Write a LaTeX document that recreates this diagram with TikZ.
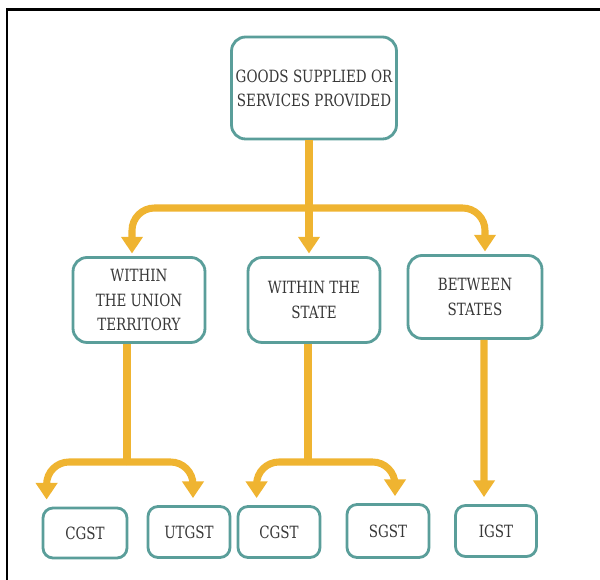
\documentclass[tikz,border=0pt]{standalone}
\usepackage{fontspec}
\setmainfont{DejaVu Serif}[FakeStretch=0.8]
\usepackage{tikz}
\usetikzlibrary{arrows.meta}

\definecolor{boxteal}{HTML}{5A9E9A}
\definecolor{flowgold}{HTML}{EFB431}
\definecolor{textgrey}{HTML}{383838}

\tikzset{
  box/.style={draw=boxteal, line width=1.6pt, rounded corners=0.28cm, fill=white,
    align=center, text=textgrey, inner sep=0pt,
    font=\fontsize{9.6}{13.8}\selectfont},
  smallbox/.style={box, rounded corners=0.2cm},
  flow/.style={draw=flowgold, line width=4pt,
    -{Triangle[width=12pt,length=9.5pt]}, shorten >=1.5pt},
  flowlow/.style={flow, shorten >=4pt}
}

\begin{document}
\begin{tikzpicture}[x=0.02cm, y=-0.02cm]

\useasboundingbox (0, 0) rectangle (600, 580);
\draw[line width=1.7pt, black] (7, 580) -- (7, 10) -- (600, 10);

% top
\node[box, minimum width=3.3cm, minimum height=2.04cm] (goods) at (314, 88) {GOODS SUPPLIED OR\\SERVICES PROVIDED};

% middle row
\node[box, minimum width=2.64cm, minimum height=1.7cm] (union) at (139, 300) {WITHIN\\THE UNION\\TERRITORY};
\node[box, minimum width=2.64cm, minimum height=1.7cm] (state) at (314, 300) {WITHIN THE\\STATE};
\node[box, minimum width=2.68cm, minimum height=1.66cm] (between) at (475, 297) {BETWEEN\\STATES};

% bottom row
\node[smallbox, minimum width=1.68cm, minimum height=1.0cm] (cgstu) at (85, 533) {CGST};
\node[smallbox, minimum width=1.64cm, minimum height=1.02cm] (utgst) at (189, 532) {UTGST};
\node[smallbox, minimum width=1.64cm, minimum height=1.02cm] (cgsts) at (279, 532) {CGST};
\node[smallbox, minimum width=1.64cm, minimum height=1.06cm] (sgst) at (388, 531) {SGST};
\node[smallbox, minimum width=1.62cm, minimum height=1.02cm] (igst) at (496, 531) {IGST};

% split points
\coordinate (split) at (309, 208);
\coordinate (usplit) at (127, 462);
\coordinate (ssplit) at (308, 462);

% goods to the three cases
\draw[flow] (goods.south -| split) -- (split |- state.north);
\draw[flow, rounded corners=0.45cm] (split) -| ([xshift=-0.14cm]union.north);
\draw[flow, rounded corners=0.45cm] (split) -| ([xshift=0.2cm]between.north);

% union territory
\draw[draw=flowgold, line width=4pt] (union.south -| usplit) -- (usplit);
\draw[flowlow, rounded corners=0.45cm] (usplit) -| ([xshift=0.1cm]cgstu.north west);
\draw[flowlow, rounded corners=0.45cm] (usplit) -| ([xshift=0.08cm]utgst.north);

% within the state
\draw[draw=flowgold, line width=4pt] (state.south -| ssplit) -- (ssplit);
\draw[flowlow, rounded corners=0.45cm] (ssplit) -| ([xshift=0.4cm]cgsts.north west);
\draw[flowlow, rounded corners=0.45cm] (ssplit) -| ([xshift=0.14cm]sgst.north);

% between states
\draw[flowlow] ([xshift=0.18cm]between.south) -- ([xshift=-0.24cm]igst.north);

\end{tikzpicture}
\end{document}
